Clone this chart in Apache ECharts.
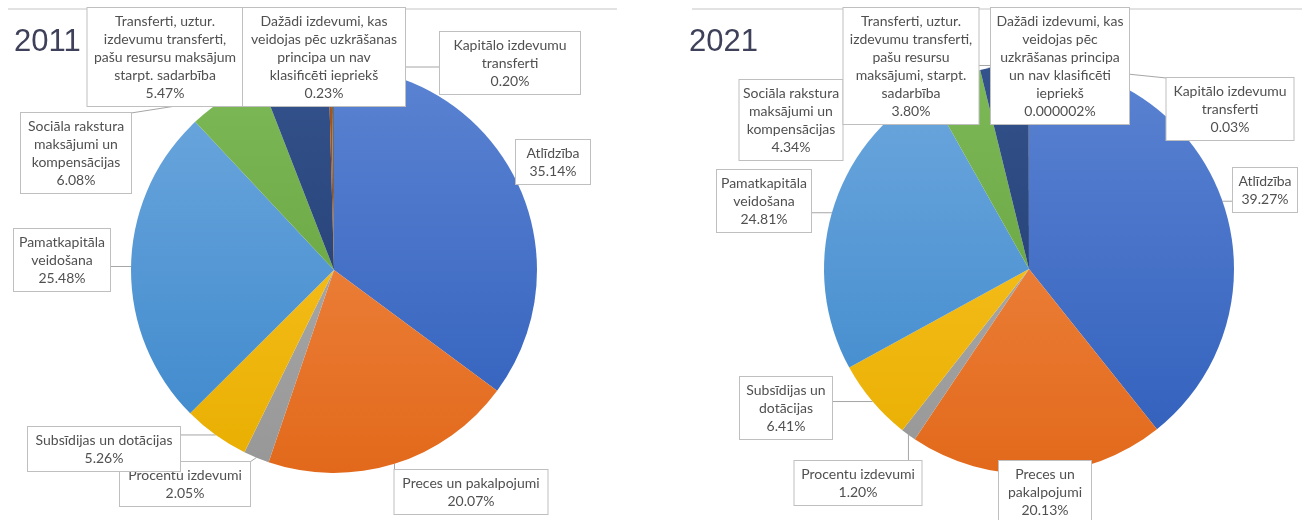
<!DOCTYPE html>
<html>
<head>
<meta charset="utf-8">
<script src="https://cdn.jsdelivr.net/npm/echarts@6/dist/echarts.min.js"></script>
<style>
  html, body { margin: 0; padding: 0; background: #ffffff; }
  #chart { width: 1302px; height: 520px; }
</style>
</head>
<body>
<div id="chart"></div>
<script>
// Expenditure categories (same order in both years)
const categories = [
  'Atlīdzība',
  'Preces un pakalpojumi',
  'Procentu izdevumi',
  'Subsīdijas un dotācijas',
  'Pamatkapitāla veidošana',
  'Sociāla rakstura maksājumi un kompensācijas',
  'Transferti, uztur. izdevumu transferti, pašu resursu maksājumi, starpt. sadarbība',
  'Dažādi izdevumi, kas veidojas pēc uzkrāšanas principa un nav klasificēti iepriekš',
  'Kapitālo izdevumu transferti'
];

const years = ['2011', '2021'];

// Shares of total expenditure, %
const values2011 = [35.14, 20.07, 2.05, 5.26, 25.48, 6.08, 5.47, 0.23, 0.20];
const values2021 = [39.27, 20.13, 1.20, 6.41, 24.81, 4.34, 3.80, 0.000002, 0.03];

// Wrapped category text shown in the callouts
const labelText2011 = [
  'Atlīdzība',
  'Preces un pakalpojumi',
  'Procentu izdevumi',
  'Subsīdijas un dotācijas',
  'Pamatkapitāla\nveidošana',
  'Sociāla rakstura\nmaksājumi un\nkompensācijas',
  'Transferti, uztur.\nizdevumu transferti,\npašu resursu maksājum\nstarpt. sadarbība',
  'Dažādi izdevumi, kas\nveidojas pēc uzkrāšanas\nprincipa un nav\nklasificēti iepriekš',
  'Kapitālo izdevumu\ntransferti'
];
const labelText2021 = [
  'Atlīdzība',
  'Preces un\npakalpojumi',
  'Procentu izdevumi',
  'Subsīdijas un\ndotācijas',
  'Pamatkapitāla\nveidošana',
  'Sociāla rakstura\nmaksājumi un\nkompensācijas',
  'Transferti, uztur.\nizdevumu transferti,\npašu resursu\nmaksājumi, starpt.\nsadarbība',
  'Dažādi izdevumi, kas\nveidojas pēc\nuzkrāšanas principa\nun nav klasificēti\niepriekš',
  'Kapitālo izdevumu\ntransferti'
];

// Slice fills: [top colour, bottom colour] of a soft vertical gradient
const sliceColors = [
  ['#5b83d2', '#2f5ebb'],
  ['#f39050', '#e2691b'],
  ['#b3b3b3', '#979797'],
  ['#ffc830', '#e8ae00'],
  ['#6ea8de', '#3b87cb'],
  ['#7db957', '#5f9b36'],
  ['#34528c', '#1e386b'],
  ['#a9561c', '#8a3e0b'],
  ['#707070', '#545454']
];

// Pie geometry and callout boxes: [centre x, top y, box width]
const pieLayout = [
  {
    center: [334, 270], radius: 203,
    boxes: [
      [553, 140, 74], [471, 470, 153], [185, 462, 130], [104, 427, 152],
      [62, 229, 96], [76, 113, 110], [165, 8, 155], [324, 8, 162], [510, 32, 140]
    ]
  },
  {
    center: [1029, 269], radius: 205,
    boxes: [
      [1265, 168, 64], [1045, 461, 92], [858, 461, 127], [786, 377, 92],
      [764, 170, 94], [791, 80, 103], [911, 8, 135], [1060, 8, 138], [1230, 78, 127]
    ]
  }
];

const valuesByYear = [values2011, values2021];
const textByYear = [labelText2011, labelText2021];

function formatShare(v) {
  return (v >= 0.01 ? v.toFixed(2) : String(v)) + '%';
}

function gradient(pair, cy, r) {
  return {
    type: 'linear', global: true,
    x: 0, y: cy - r, x2: 0, y2: cy + r,
    colorStops: [{ offset: 0, color: pair[0] }, { offset: 1, color: pair[1] }]
  };
}

function buildSeries(i) {
  const lay = pieLayout[i];
  const vals = valuesByYear[i];
  const texts = textByYear[i];
  return {
    type: 'pie',
    name: years[i],
    center: lay.center,
    radius: lay.radius,
    startAngle: 90,
    clockwise: true,
    avoidLabelOverlap: false,
    animation: false,
    silent: true,
    data: categories.map((name, k) => ({
      name: name,
      value: vals[k],
      itemStyle: { color: gradient(sliceColors[k], lay.center[1], lay.radius) },
      label: { width: lay.boxes[k][2] - 10 }
    })),
    itemStyle: { borderWidth: 0 },
    label: {
      show: true,
      position: 'outside',
      formatter: p => texts[p.dataIndex] + '\n' + formatShare(p.value),
      fontFamily: 'Lato, "Open Sans", sans-serif',
      fontSize: 14,
      lineHeight: 18,
      color: '#505050',
      align: 'center',
      overflow: 'none',
      backgroundColor: '#ffffff',
      borderColor: '#bfbfbf',
      borderWidth: 1,
      padding: [4, 5]
    },
    labelLine: {
      show: true, length: 6, length2: 6,
      lineStyle: { color: '#a6a6a6', width: 1 }
    },
    labelLayout: function (p) {
      const b = lay.boxes[p.dataIndex];
      const h = p.labelRect.height;
      const rect = { x: b[0] - b[2] / 2, y: b[1], w: b[2], h: h };
      const start = p.labelLinePoints ? p.labelLinePoints[0] : null;
      let pts = [];
      if (start) {
        const ex = Math.min(Math.max(start[0], rect.x), rect.x + rect.w);
        const ey = Math.min(Math.max(start[1], rect.y), rect.y + rect.h);
        pts = [[start[0], start[1]], [ex, ey]];
      }
      return {
        x: b[0],
        y: b[1],
        align: 'center',
        verticalAlign: 'top',
        labelLinePoints: pts
      };
    }
  };
}

const yearFont = '31px "Liberation Sans", Arial, sans-serif';

const chart = echarts.init(document.getElementById('chart'), null, { renderer: 'canvas' });
chart.setOption({
  backgroundColor: '#ffffff',
  animation: false,
  graphic: [
    { type: 'line', shape: { x1: 8, y1: 9, x2: 617, y2: 9 }, style: { stroke: '#d9d9d9', lineWidth: 1.5 }, silent: true },
    { type: 'line', shape: { x1: 692, y1: 9, x2: 1302, y2: 9 }, style: { stroke: '#d9d9d9', lineWidth: 1.5 }, silent: true },
    { type: 'text', left: 14, top: 27, style: { text: years[0], font: yearFont, fill: '#3e4159' }, silent: true },
    { type: 'text', left: 689, top: 27, style: { text: years[1], font: yearFont, fill: '#3e4159' }, silent: true }
  ],
  series: [buildSeries(0), buildSeries(1)]
});
</script>
</body>
</html>
